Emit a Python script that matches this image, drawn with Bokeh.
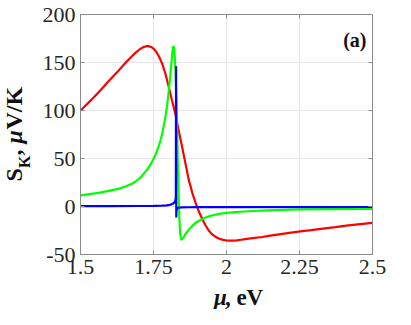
import math
from bokeh.plotting import figure
from bokeh.models import Range1d, LinearAxis, FixedTicker, Label
from bokeh.layouts import row, column
from bokeh.core.properties import value
from bokeh.embed import file_html
from bokeh.resources import INLINE

# ---- data ----
red_x = [1.5, 1.515, 1.530, 1.545, 1.562, 1.580, 1.596, 1.613, 1.630, 1.645, 1.660, 1.676,
         1.690, 1.703, 1.715, 1.725, 1.734, 1.743, 1.752, 1.761, 1.770, 1.780, 1.791,
         1.802, 1.813, 1.825, 1.836, 1.848, 1.860, 1.871, 1.883, 1.894, 1.905, 1.917,
         1.928, 1.939, 1.950, 1.962, 1.973, 1.985, 1.997, 2.010, 2.022, 2.035, 2.050,
         2.070, 2.090, 2.122, 2.150, 2.180, 2.215, 2.253, 2.290, 2.330, 2.373, 2.410,
         2.450, 2.5]
red_y = [100, 104.5, 109, 113.5, 119, 125, 130.5, 136, 141.5, 146.5, 151.5, 156.5,
         160.5, 163.8, 166, 167, 167, 166, 164, 160.5, 155.5, 148.6, 138,
         125, 111, 96.5, 79.5, 62, 44, 27.5, 14, 4, -5, -13,
         -19.5, -25, -28.8, -31.5, -33.3, -34.5, -35.2, -35.5, -35.5, -35.2, -34.6,
         -33.8, -33, -31.8, -30.4, -29, -27.5, -26, -24.6, -23, -21.5, -20,
         -18.6, -17]

green_x = [1.5, 1.53, 1.562, 1.60, 1.630, 1.655, 1.676, 1.690, 1.705, 1.721, 1.733, 1.745,
           1.757, 1.767, 1.775, 1.782, 1.790, 1.797, 1.803, 1.808, 1.812, 1.815, 1.817,
           1.819, 1.821, 1.823, 1.825, 1.827, 1.829, 1.831, 1.833, 1.836, 1.839, 1.842,
           1.846, 1.852, 1.860, 1.870, 1.882, 1.894, 1.911, 1.928, 1.945, 1.960, 1.980,
           2.002, 2.030, 2.060, 2.090, 2.122, 2.190, 2.253, 2.350, 2.5]
green_y = [11.5, 12.8, 14.2, 16.5, 18.4, 21, 23.6, 26.3, 30, 35.8, 40.5, 46.5,
           54, 62, 70, 79, 92, 106, 122, 138, 152, 161, 166,
           167, 164, 156, 143, 126, 104, 78, 48, 12, -16, -30,
           -35, -32.5, -28.5, -24.5, -20.5, -17, -14, -11.5, -9.8, -8.6, -7.5,
           -6.6, -5.8, -5.2, -4.7, -4.2, -3.5, -3, -2.7, -2.4]

blue_x = [1.5, 1.6, 1.7, 1.75, 1.78, 1.795, 1.805, 1.812, 1.817, 1.821, 1.824, 1.8255,
          1.8266, 1.8272, 1.8280, 1.8290, 1.8310, 1.835, 1.845, 1.87, 1.9, 2.0, 2.5]
blue_y = [0.3, 0.4, 0.5, 0.7, 0.9, 1.2, 1.7, 2.3, 3, 4, 5.5, 7,
          10, 146, -11.5, -4, -2, -1.3, -1, -0.8, -0.7, -0.6, -0.5]

x_ticks = [1.5, 1.75, 2.0, 2.25, 2.5]
x_tick_labels = ["1.5", "1.75", "2", "2.25", "2.5"]
y_ticks = [-50, 0, 50, 100, 150, 200]
y_tick_labels = ["-50", "0", "50", "100", "150", "200"]

AX = "#8a8a8a"
TXT = "#262626"
FONT = "Liberation Serif"

W_L = 34          # width of the y-title strip
W_M = 395 - W_L   # width of the main chart
H_M = 285         # height of the main chart
H_B = 309 - H_M   # height of the x-title strip

# ---------- main chart: frame x 80..372, y 14..254 (picture px) ----------
p = figure(width=W_M, height=H_M, x_range=Range1d(1.5, 2.5), y_range=Range1d(-50, 200),
           output_backend="svg", toolbar_location=None, title_location=None,
           min_border_left=80 - W_L, min_border_right=395 - 372, min_border_top=14,
           min_border_bottom=H_M - 254)
p.background_fill_color = "white"
p.border_fill_color = "white"
p.outline_line_color = AX

p.xaxis.ticker = FixedTicker(ticks=x_ticks)
p.xaxis.major_label_overrides = {t: l for t, l in zip(x_ticks, x_tick_labels)}
p.yaxis.ticker = FixedTicker(ticks=y_ticks)
p.yaxis.major_label_overrides = {t: l for t, l in zip(y_ticks, y_tick_labels)}

for ax in p.axis:
    ax.axis_line_color = AX
    ax.major_tick_line_color = AX
    ax.minor_tick_line_color = None
    ax.major_tick_in = 4
    ax.major_tick_out = 0
    ax.major_label_text_font = FONT
    ax.major_label_text_font_size = "22px"
    ax.major_label_text_color = TXT
p.xaxis.major_label_standoff = 5
p.yaxis.major_label_standoff = 5

for loc in ("above", "right"):
    tk = x_ticks if loc == "above" else y_ticks
    a = LinearAxis(ticker=FixedTicker(ticks=tk),
                   major_label_overrides={t: "" for t in tk},
                   axis_line_color=AX, major_tick_line_color=AX, minor_tick_line_color=None,
                   major_tick_in=4, major_tick_out=0, major_label_text_font_size="1px",
                   major_label_standoff=0)
    p.add_layout(a, loc)

p.xgrid.ticker = FixedTicker(ticks=x_ticks)
p.ygrid.ticker = FixedTicker(ticks=y_ticks)
p.grid.grid_line_color = "#e6e6e6"
p.grid.grid_line_width = 1

p.line(red_x, red_y, line_color="#ff0000", line_width=2.2)
p.line(green_x, green_y, line_color="#00ff00", line_width=2.2)
p.line(blue_x, blue_y, line_color="#0000ff", line_width=2.2)

p.add_layout(Label(x=2.5, y=200, x_offset=-6, y_offset=-25, text="(a)", text_font=FONT,
                   text_font_size="20px", text_font_style="bold", text_color="#111111",
                   text_align="right", text_baseline="alphabetic"))

def strip(w, h, xr, yr):
    f = figure(width=w, height=h, x_range=xr, y_range=yr, output_backend="svg",
               toolbar_location=None, title_location=None, min_border=0)
    f.axis.visible = False
    f.grid.visible = False
    f.outline_line_color = None
    f.background_fill_color = "white"
    f.border_fill_color = "white"
    return f

# ---------- y-axis title strip (x 0..34); coordinates are picture px (glyph centre line) ----------
ly = strip(W_L, 309, Range1d(0, W_L), Range1d(309, 0))
R = math.pi / 2
ly_parts = [("S", 13, 181, "24px", "bold"), ("K", 24, 167.5, "16px", "bold"),
            (",", 13, 155, "24px", "bold"), ("\u03bc", 13, 143, "24px", "bold italic"),
            ("V/K", 13, 129, "24px", "bold")]
for t, x, y, s, st in ly_parts:
    ly.text(x=[x], y=[y], text=[t], angle=R, text_font=value(FONT), text_font_size=s,
            text_font_style=st, text_color="#111111", text_align="left",
            text_baseline="middle")

# ---------- x-axis title strip (y 285..309, x 34..395) ----------
lx = strip(W_M, H_B, Range1d(W_L, 395), Range1d(309, H_M))
lx.text(x=[199], y=[297], text=["\u03bc"], text_font=value(FONT), text_font_size="23px",
        text_font_style="bold italic", text_color="#111111", text_baseline="middle")
lx.text(x=[212.5], y=[297], text=[", eV"], text_font=value(FONT), text_font_size="23px",
        text_font_style="bold", text_color="#111111", text_baseline="middle")

layout = row(ly, column(p, lx, spacing=0), spacing=0)
open("out.html", "w").write(file_html(layout, INLINE))
